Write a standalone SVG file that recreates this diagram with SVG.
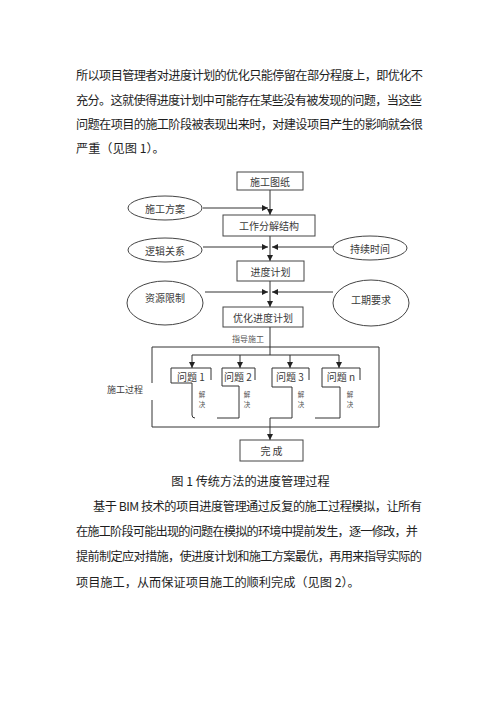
<svg xmlns="http://www.w3.org/2000/svg" width="500" height="707" viewBox="0 0 500 707">
<defs>
<style>
.p{font-family:"Noto Sans CJK SC","Liberation Sans",sans-serif;font-size:12.2px;fill:#1e1e1e}
.t{font-family:"Noto Sans CJK SC","Liberation Serif",sans-serif;font-size:10px;fill:#3a3a3a;text-anchor:middle;dominant-baseline:central}
.s{font-family:"Noto Sans CJK SC","Liberation Serif",sans-serif;font-size:6.5px;fill:#555;text-anchor:middle;dominant-baseline:central}
.b{fill:#fff;stroke:#444;stroke-width:1}
.l{fill:none;stroke:#333;stroke-width:1}
</style>
<marker id="a" viewBox="0 0 8 8" refX="8" refY="4" markerWidth="6" markerHeight="6" markerUnits="userSpaceOnUse" orient="auto">
<path d="M0,0 L8,4 L0,8 z" fill="#222"/>
</marker>
</defs>
<rect width="500" height="707" fill="#fff"/>
<g id="text-top">
<text class="p" x="76" y="80" textLength="347" lengthAdjust="spacing">所以项目管理者对进度计划的优化只能停留在部分程度上，即优化不</text>
<text class="p" x="76" y="105" textLength="346" lengthAdjust="spacing">充分。这就使得进度计划中可能存在某些没有被发现的问题，当这些</text>
<text class="p" x="76" y="129" textLength="347" lengthAdjust="spacing">问题在项目的施工阶段被表现出来时，对建设项目产生的影响就会很</text>
<text class="p" x="76" y="153">严重（见图 1）。</text>
</g>
<g id="connectors">
<line class="l" x1="270" y1="190" x2="270" y2="215" marker-end="url(#a)"/>
<line class="l" x1="203" y1="208" x2="268" y2="208" marker-end="url(#a)"/>
<line class="l" x1="270" y1="236" x2="270" y2="261" marker-end="url(#a)"/>
<line class="l" x1="203" y1="247" x2="268" y2="247" marker-end="url(#a)"/>
<line class="l" x1="333" y1="247" x2="272" y2="247" marker-end="url(#a)"/>
<line class="l" x1="270" y1="281" x2="270" y2="307" marker-end="url(#a)"/>
<line class="l" x1="205" y1="292" x2="268" y2="292" marker-end="url(#a)"/>
<line class="l" x1="333" y1="292" x2="272" y2="292" marker-end="url(#a)"/>
<line class="l" x1="270" y1="327" x2="270" y2="355"/>
<line class="l" x1="192" y1="355" x2="339" y2="355"/>
<line class="l" x1="192" y1="355" x2="192" y2="368" marker-end="url(#a)"/>
<line class="l" x1="240" y1="355" x2="240" y2="368" marker-end="url(#a)"/>
<line class="l" x1="290" y1="355" x2="290" y2="368" marker-end="url(#a)"/>
<line class="l" x1="339" y1="355" x2="339" y2="368" marker-end="url(#a)"/>
<line class="l" x1="270" y1="418" x2="270" y2="440" marker-end="url(#a)"/>
</g>
<g id="n-shigongtuzhi"><rect class="b" x="237" y="172" width="66" height="18"/><text class="t" x="270" y="181">施工图纸</text></g>
<g id="n-shigongfangan"><ellipse class="b" cx="165" cy="208" rx="37" ry="12"/><text class="t" x="165" y="208">施工方案</text></g>
<g id="n-wbs"><rect class="b" x="223" y="215" width="92" height="21"/><text class="t" x="269" y="225.5">工作分解结构</text></g>
<g id="n-luoji"><ellipse class="b" cx="165" cy="250" rx="37" ry="12"/><text class="t" x="165" y="250">逻辑关系</text></g>
<g id="n-chixu"><ellipse class="b" cx="370" cy="248" rx="37" ry="12"/><text class="t" x="370" y="248">持续时间</text></g>
<g id="n-jindu"><rect class="b" x="237" y="261" width="67" height="20"/><text class="t" x="270.5" y="271">进度计划</text></g>
<g id="n-ziyuan"><ellipse class="b" cx="165" cy="303" rx="38" ry="22"/><text class="t" x="165" y="297">资源限制</text></g>
<g id="n-gongqi"><ellipse class="b" cx="371" cy="303" rx="38" ry="23"/><text class="t" x="371" y="299">工期要求</text></g>
<g id="n-youhua"><rect class="b" x="223" y="307" width="80" height="20"/><text class="t" x="263" y="317">优化进度计划</text></g>
<g id="n-process">
<text class="s" x="248" y="338" style="font-size:8px">指导施工</text>
<path class="l" d="M152,383 V347 H379 V427 H152 V400"/>
<text class="t" x="125" y="389" style="font-size:9px">施工过程</text>
</g>
<g id="n-wenti1">
<path class="l" d="M211,380 V368 H171 V383 H192 V415 Q192,418 195,418"/>
<text class="t" x="191" y="376">问题 1</text>
<text class="s" x="202" y="394">解</text><text class="s" x="202" y="404">决</text>
</g>
<g id="n-wenti2">
<path class="l" d="M255,380 V368 H222 V386 H239 V418 H217"/>
<text class="t" x="238" y="376">问题 2</text>
<text class="s" x="247" y="394">解</text><text class="s" x="247" y="404">决</text>
</g>
<g id="n-wenti3">
<path class="l" d="M309,380 V368 H272 V387 H292 V418 H270"/>
<text class="t" x="290" y="376">问题 3</text>
<text class="s" x="301" y="394">解</text><text class="s" x="301" y="404">决</text>
</g>
<g id="n-wentin">
<path class="l" d="M360,380 V368 H322 V387 H340 V418 H315"/>
<text class="t" x="341" y="376">问题 n</text>
<text class="s" x="350" y="394">解</text><text class="s" x="350" y="404">决</text>
</g>
<g id="n-wancheng"><rect class="b" x="240" y="440" width="63" height="21"/><text class="t" x="271.5" y="450.5">完 成</text></g>
<g id="text-bottom">
<text class="p" x="250.5" y="486" text-anchor="middle">图 1 传统方法的进度管理过程</text>
<text class="p" x="93" y="511" textLength="329" lengthAdjust="spacing">基于 BIM 技术的项目进度管理通过反复的施工过程模拟，让所有</text>
<text class="p" x="76" y="536" textLength="342" lengthAdjust="spacing">在施工阶段可能出现的问题在模拟的环境中提前发生，逐一修改，并</text>
<text class="p" x="76" y="561" textLength="346" lengthAdjust="spacing">提前制定应对措施，使进度计划和施工方案最优，再用来指导实际的</text>
<text class="p" x="76" y="587">项目施工，从而保证项目施工的顺利完成（见图 2）。</text>
</g>
</svg>
